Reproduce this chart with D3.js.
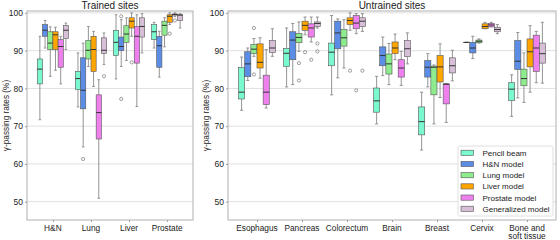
<!DOCTYPE html>
<html><head><meta charset="utf-8">
<script src="https://cdn.jsdelivr.net/npm/d3@7"></script>
<style>body{margin:0;background:#fff} svg{display:block} text{font-family:"Liberation Sans",Arial,sans-serif;fill:#222}</style>
</head><body><svg id="c" width="560" height="240"></svg>
<script>
const models = ["Pencil beam","H&N model","Lung model","Liver model","Prostate model","Generalized model"];
const modelColors = ["#7af8d0","#5b8de6","#8eec8e","#ffa500","#ee80ee","#d8bfd8"];
const trainedSites = ["H&N","Lung","Liver","Prostate"];
const untrainedSites = ["Esophagus","Pancreas","Colorectum","Brain","Breast","Cervix","Bone and|soft tissue"];
const yTicks = [50,60,70,80,90,100];

// five-number summaries per site: [lower whisker, Q1, median, Q3, upper whisker]
const trainedPencil     = [[71.7,81.2,85.1,87.8,93.8],[75.1,79.7,82.6,84.5,89.4],[82.5,88.7,92.2,95.4,99.5],[90.7,92.9,95.0,96.9,97.5]];
const trainedHN         = [[90.7,93.8,95.4,96.9,98.0],[64.5,74.6,79.5,88.1,92.0],[85.8,90.0,91.1,93.6,98.2],[83.0,85.6,91.3,93.8,95.1]];
const trainedLung       = [[83.2,90.3,92.0,95.0,96.3],[85.8,87.8,90.1,92.7,96.4],[87.4,92.2,94.4,96.6,98.7],[91.0,94.1,96.7,97.8,98.7]];
const trainedLiver      = [[84.8,90.3,94.2,95.0,96.2],[80.5,84.5,90.3,93.8,95.1],[93.8,96.0,97.8,98.7,100.0],[96.9,97.5,99.1,99.5,100.0]];
const trainedProstate   = [[81.2,85.6,91.1,92.9,93.8],[50.9,66.6,73.6,78.3,82.3],[75.2,86.7,93.8,96.4,99.5],[99.0,99.4,99.6,99.7,100.0]];
const trainedGeneral    = [[90.3,93.2,95.4,96.7,97.3],[86.3,89.2,90.1,93.4,94.7],[89.4,93.6,96.4,98.7,99.8],[96.0,98.0,99.4,99.5,99.8]];
// outliers: [site index, model index, value]
const trainedOutliers = [[1,1,61.3],[2,1,77.2],[2,1,99.1],[2,3,86.9],[3,3,94.5],[3,4,98.0],[1,5,83.2]];

const untrainedPencil   = [[74.2,77.2,79.0,85.5,88.3],[80.4,85.8,89.3,90.6,96.0],[78.3,86.0,89.6,92.0,99.3],[70.6,73.7,76.7,80.1,83.2],[63.7,67.7,71.2,75.1,79.0],[92.2,92.2,92.2,92.2,92.2],[72.6,76.8,79.8,81.5,83.6]];
const untrainedHN       = [[82.1,83.1,86.5,89.7,90.7],[81.0,87.6,92.8,95.0,97.2],[82.8,90.5,94.7,97.8,98.4],[83.4,86.0,88.7,91.0,93.6],[80.4,83.0,85.6,87.4,89.2],[87.9,89.4,90.7,92.2,93.8],[77.5,85.0,87.2,92.7,94.8]];
const untrainedLung     = [[88.5,89.2,90.4,91.6,93.2],[89.8,92.1,93.5,94.5,97.6],[85.4,91.2,93.4,95.6,98.2],[81.0,83.8,86.5,89.1,91.9],[70.6,78.3,85.6,85.9,86.2],[92.0,92.1,92.5,92.8,93.1],[76.3,80.7,82.6,85.1,89.4]];
const untrainedLiver    = [[82.7,85.4,86.9,91.8,93.4],[94.2,95.4,96.7,97.8,98.9],[95.4,96.9,98.0,98.7,100.0],[87.6,89.2,90.7,92.3,94.4],[77.6,81.7,85.7,88.7,91.8],[95.8,95.8,96.4,97.1,97.5],[79.0,85.7,89.7,93.1,96.6]];
const untrainedProstate = [[74.8,75.7,79.0,83.5,90.3],[92.3,93.6,96.0,97.1,98.9],[94.5,95.8,97.3,99.3,99.8],[80.8,83.0,85.4,87.6,89.8],[71.0,75.9,81.1,81.2,81.3],[96.3,96.3,96.8,97.2,97.5],[81.5,84.5,90.7,94.1,95.1]];
const untrainedGeneral  = [[88.5,89.5,90.7,92.7,95.8],[96.0,96.4,97.2,97.6,98.9],[95.1,96.4,97.8,98.7,99.8],[86.5,88.4,90.5,92.7,94.7],[82.0,84.1,86.0,88.1,90.1],[94.5,95.0,95.6,96.2,96.9],[81.4,86.7,89.2,92.0,97.5]];
const untrainedOutliers = [[0,2,96.0],[0,2,83.7],[1,2,86.7],[1,2,82.1],[1,3,89.6],[1,4,87.6],[1,5,91.9],[1,5,89.8],[2,3,84.7],[2,4,79.5],[2,5,84.7]];

const svg = d3.select("#c");
const y = d3.scaleLinear().domain([45.15, 100.5]).range([220, 11]);

function panel(opt) {
  const {x0, x1, sites, series, outliers, title} = opt;
  const g = svg.append("g");
  const x = d3.scalePoint().domain(sites).range([x0, x1]).padding(opt.pad);
  const step = x.step();
  const groupW = step * 0.82;
  const bw = groupW / models.length;
  const off = i => -groupW / 2 + bw * i;

  g.selectAll(".grid").data(yTicks).join("line")
    .attr("x1", x0).attr("x2", x1).attr("y1", d => y(d)).attr("y2", d => y(d))
    .attr("stroke", "#e0e0e0").attr("stroke-width", 1);

  const ya = g.append("g").attr("transform", `translate(${x0},0)`)
    .call(d3.axisLeft(y).tickValues(yTicks).tickSize(2).tickPadding(2));
  ya.select(".domain").remove();
  ya.selectAll("line").attr("stroke", "#999");
  ya.selectAll("text").attr("font-size", 8.5).attr("fill", "#222")
    .style("font-family", '"Liberation Sans",Arial,sans-serif');

  const xa = g.append("g").attr("transform", `translate(0,220)`)
    .call(d3.axisBottom(x).tickSize(2).tickPadding(2).tickFormat(""));
  xa.select(".domain").remove();
  xa.selectAll("line").attr("stroke", "#999");
  sites.forEach(s => {
    const lines = s.split("|");
    const t = g.append("text").attr("x", x(s)).attr("y", 230.5)
      .attr("text-anchor", "middle").attr("font-size", 8.3);
    lines.forEach((l, i) => t.append("tspan").attr("x", x(s)).attr("dy", i ? 8.6 : 0).text(l));
  });

  series.forEach((arr, mi) => {
    arr.forEach((d, si) => {
      const cx = x(sites[si]) + off(mi) + bw / 2;
      const left = cx - bw / 2;
      const [lo, q1, med, q3, hi] = d;
      const cap = bw * 0.5;
      const bg = g.append("g");
      bg.append("line").attr("x1", cx).attr("x2", cx).attr("y1", y(hi)).attr("y2", y(q3)).attr("stroke", "#888").attr("stroke-width", 0.9);
      bg.append("line").attr("x1", cx).attr("x2", cx).attr("y1", y(q1)).attr("y2", y(lo)).attr("stroke", "#888").attr("stroke-width", 0.9);
      bg.append("line").attr("x1", cx - cap / 2).attr("x2", cx + cap / 2).attr("y1", y(hi)).attr("y2", y(hi)).attr("stroke", "#888").attr("stroke-width", 0.9);
      bg.append("line").attr("x1", cx - cap / 2).attr("x2", cx + cap / 2).attr("y1", y(lo)).attr("y2", y(lo)).attr("stroke", "#888").attr("stroke-width", 0.9);
      bg.append("rect").attr("x", left).attr("width", bw).attr("y", y(q3)).attr("height", Math.max(0.01, y(q1) - y(q3)))
        .attr("fill", modelColors[mi]).attr("stroke", "#555").attr("stroke-width", 0.6);
      bg.append("line").attr("x1", left).attr("x2", left + bw).attr("y1", y(med)).attr("y2", y(med)).attr("stroke", "#333").attr("stroke-width", 1);
    });
  });
  outliers.forEach(([si, mi, v]) => {
    const cx = x(sites[si]) + off(mi) + bw / 2;
    g.append("circle").attr("cx", cx).attr("cy", y(v)).attr("r", 1.6)
      .attr("fill", "none").attr("stroke", "#777").attr("stroke-width", 0.7);
  });

  g.append("rect").attr("x", x0).attr("y", 11).attr("width", x1 - x0).attr("height", 209)
    .attr("fill", "none").attr("stroke", "#b0b0b0").attr("stroke-width", 1);

  g.append("text").attr("x", (x0 + x1) / 2).attr("y", 9).attr("text-anchor", "middle")
    .attr("font-size", 10).text(title);
  g.append("text").attr("transform", `translate(${opt.labelX},${(11 + 220) / 2}) rotate(-90)`)
    .attr("text-anchor", "middle").attr("font-size", 8.3).text("γ-passing rates (%)");
}

panel({x0: 27, x1: 193, pad: 0.68, sites: trainedSites, title: "Trained sites", labelX: 9,
  series: [trainedPencil, trainedHN, trainedLung, trainedLiver, trainedProstate, trainedGeneral], outliers: trainedOutliers});
panel({x0: 228, x1: 556, pad: 0.644, sites: untrainedSites, title: "Untrained sites", labelX: 209,
  series: [untrainedPencil, untrainedHN, untrainedLung, untrainedLiver, untrainedProstate, untrainedGeneral], outliers: untrainedOutliers});

const lg = svg.append("g");
lg.append("rect").attr("x", 458).attr("y", 146).attr("width", 95).attr("height", 70).attr("rx", 1.5)
  .attr("fill", "#fff").attr("fill-opacity", 0.9).attr("stroke", "#d8d8d8").attr("stroke-width", 0.8);
models.forEach((m, i) => {
  const yy = 152.8 + i * 11.2;
  lg.append("rect").attr("x", 461).attr("y", yy - 2.6).attr("width", 12.5).attr("height", 5.2)
    .attr("fill", modelColors[i]).attr("stroke", "#555").attr("stroke-width", 0.6);
  lg.append("text").attr("x", 482.5).attr("y", yy + 2.9).attr("font-size", 8).text(m);
});
</script></body></html>
